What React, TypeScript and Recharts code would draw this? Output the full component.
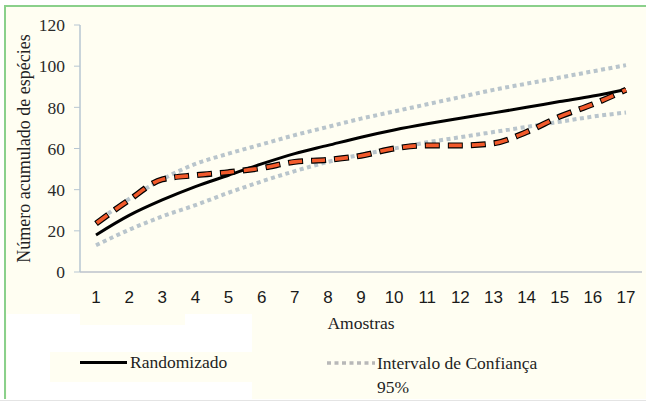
import { LineChart, Line, XAxis, YAxis, Label } from "recharts";

// Curva de acumulação de espécies
const amostras = ["1", "2", "3", "4", "5", "6", "7", "8", "9", "10", "11", "12", "13", "14", "15", "16", "17"];
const randomizado = [18, 27.5, 35, 41.5, 47, 52.5, 57.5, 61.5, 65.5, 69, 72, 74.7, 77.3, 80, 82.8, 85.5, 88.7];
const icSuperior = [24, 35.5, 45, 52.5, 57.5, 62, 66.5, 70.5, 74.5, 78, 81.5, 85, 88.5, 91.5, 94.5, 97.5, 100.5];
const icInferior = [13, 20.5, 27, 32.5, 38.5, 44, 49, 53.5, 57, 60, 63, 65.5, 68, 70.5, 73, 75.5, 77.5];
const observado = [23.5, 35, 45, 47, 48.5, 50.5, 53.5, 54.5, 56.5, 60, 61.5, 61.5, 62.5, 68, 75.5, 81.5, 88.5];
const yTicks = [0, 20, 40, 60, 80, 100, 120];

const data = amostras.map((amostra, i) => ({
  amostra,
  randomizado: randomizado[i],
  superior: icSuperior[i],
  inferior: icInferior[i],
  observado: observado[i],
}));

const SERIF = "Liberation Serif, serif";
const SANS = "Liberation Sans, sans-serif";
const CREAM = "#fffef2";
const CI_COLOR = "#b9c5cc";

export default function App() {
  return (
    <div
      style={{
        position: "absolute",
        left: 0,
        top: 0,
        width: 646,
        height: 404,
        background: "#ffffff",
        overflow: "hidden",
      }}
    >
      {/* moldura */}
      <div
        style={{
          position: "absolute",
          left: 4,
          top: 5,
          width: 642,
          height: 394,
          background: CREAM,
          borderTop: "2px solid #8ad08b",
          borderLeft: "2px solid #8ad08b",
          boxSizing: "border-box",
        }}
      />
      {/* manchas brancas da área da legenda */}
      <div style={{ position: "absolute", left: 7, top: 314, width: 245, height: 85, background: "#ffffff" }} />
      <div style={{ position: "absolute", left: 80, top: 314, width: 105, height: 11, background: CREAM }} />
      <div style={{ position: "absolute", left: 50, top: 352, width: 202, height: 30, background: CREAM }} />
      <div style={{ position: "absolute", left: 0, top: 400, width: 646, height: 1, background: "#e4e4e4" }} />

      <div style={{ position: "absolute", left: 0, top: 0 }}>
        <LineChart width={646} height={404} data={data} margin={{ top: 25, right: 4, bottom: 102, left: 0 }}>
          <XAxis
            dataKey="amostra"
            height={30}
            padding={{ left: 16, right: 16 }}
            axisLine={{ stroke: "#bdc2cb", strokeWidth: 1.5 }}
            tickLine={false}
            tickSize={0}
            tickMargin={19}
            interval={0}
            tick={{ fill: "#1a1a1a", fontSize: 17, fontFamily: SANS }}
          >
            <Label
              value="Amostras"
              position="bottom"
              offset={15}
              style={{ fill: "#222", fontSize: 17.5, fontFamily: SERIF }}
            />
          </XAxis>
          <YAxis
            width={80}
            domain={[0, 120]}
            ticks={yTicks}
            axisLine={{ stroke: "#b7c6d2", strokeWidth: 1.5 }}
            tickLine={{ stroke: "#b7c6d2" }}
            tickSize={6}
            tickMargin={9}
            tick={{ fill: "#2a2a2a", fontSize: 17.5, fontFamily: SERIF }}
          >
            <Label
              value="Número acumulado de espécies"
              angle={-90}
              position="center"
              dx={-16}
              style={{ fill: "#222", fontSize: 18, fontFamily: SERIF, textAnchor: "middle" }}
            />
          </YAxis>

          <Line
            type="monotone"
            dataKey="superior"
            stroke={CI_COLOR}
            strokeWidth={4}
            strokeDasharray="4 3.5"
            dot={false}
            activeDot={false}
            isAnimationActive={false}
          />
          <Line
            type="monotone"
            dataKey="inferior"
            stroke={CI_COLOR}
            strokeWidth={4}
            strokeDasharray="4 3.5"
            dot={false}
            activeDot={false}
            isAnimationActive={false}
          />
          <Line
            type="monotone"
            dataKey="randomizado"
            stroke="#000000"
            strokeWidth={3}
            dot={false}
            activeDot={false}
            isAnimationActive={false}
          />
          <Line
            type="monotone"
            dataKey="observado"
            stroke="#000000"
            strokeWidth={6}
            strokeDasharray="15 8"
            strokeLinecap="butt"
            dot={false}
            activeDot={false}
            isAnimationActive={false}
          />
          <Line
            type="monotone"
            dataKey="observado"
            stroke="#f25a2b"
            strokeWidth={3.6}
            strokeDasharray="13 10"
            strokeDashoffset={-1}
            strokeLinecap="butt"
            dot={false}
            activeDot={false}
            isAnimationActive={false}
          />
        </LineChart>
      </div>

      {/* legenda */}
      <div style={{ position: "absolute", left: 80, top: 361, width: 47, height: 3, background: "#000" }} />
      <div
        style={{
          position: "absolute",
          left: 130,
          top: 351,
          fontFamily: SERIF,
          fontSize: 17.5,
          lineHeight: "22px",
          color: "#1e1e1e",
          whiteSpace: "nowrap",
        }}
      >
        Randomizado
      </div>
      <svg style={{ position: "absolute", left: 326, top: 360 }} width={50} height={6}>
        <line x1={1} y1={3} x2={49} y2={3} stroke="#b8b8b8" strokeWidth={3.5} strokeDasharray="4 3.5" />
      </svg>
      <div
        style={{
          position: "absolute",
          left: 377,
          top: 351,
          fontFamily: SERIF,
          fontSize: 17.5,
          lineHeight: "24px",
          color: "#1e1e1e",
          whiteSpace: "nowrap",
        }}
      >
        Intervalo de Confiança
        <br />
        95%
      </div>
    </div>
  );
}
